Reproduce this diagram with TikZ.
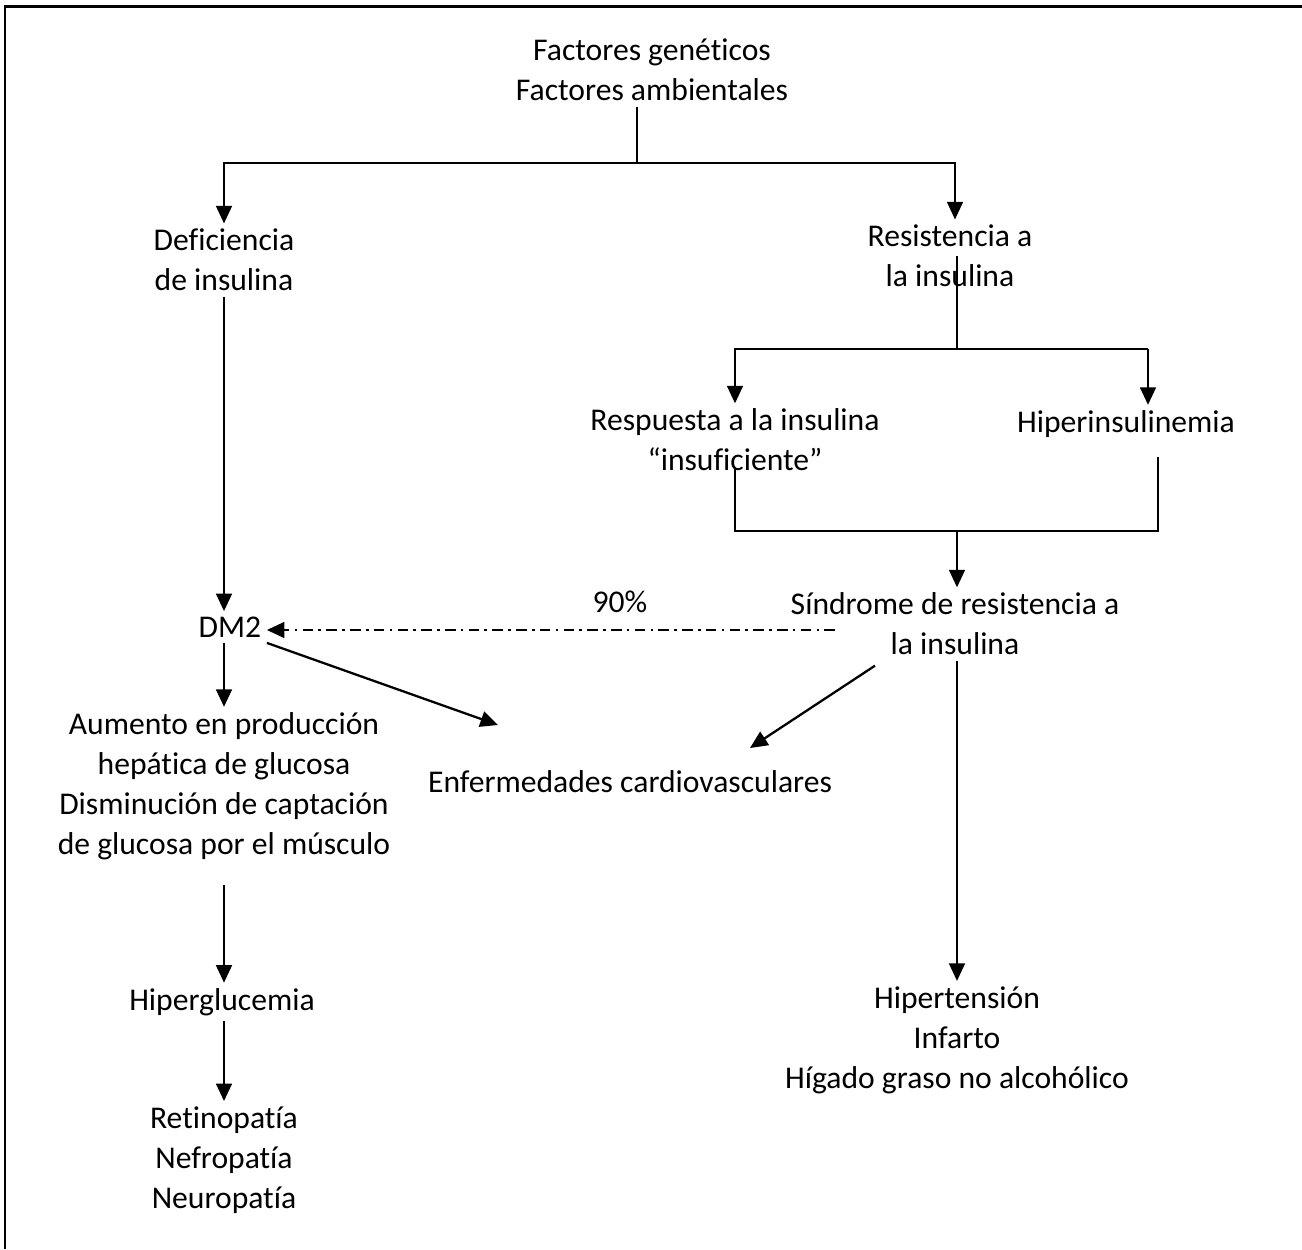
\documentclass[tikz,border=0pt]{standalone}
\usepackage{fontspec}
\setmainfont{Carlito}[Ligatures=NoCommon]
\usetikzlibrary{arrows.meta,calc}

\begin{document}
\begin{tikzpicture}
  [x=0.02cm,y=-0.02cm]
      \tikzstyle{text_style} = [align=center, inner sep=3pt, font=\fontsize{18}{22.7}\selectfont]
      \tikzstyle{line_style} = [draw=black, line width=1.3pt]
      \tikzstyle{arrow_style} = [line_style, -{Triangle[width=9pt,length=10pt]}]
      \tikzstyle{dash_style} = [arrow_style, dash pattern=on 6pt off 3pt on 1.5pt off 3pt]
  \useasboundingbox (0,0) rectangle (1302,1249);
  \draw[line width=1.7pt] (5,1249) -- (5,6) -- (1302,6);

  \node[text_style] (factores) at (652,70) {Factores genéticos\\Factores ambientales};
  \node[text_style] (deficiencia) at (224,260) {Deficiencia\\de insulina};
  \node[text_style] (resistencia) at (950,256) {Resistencia a\\la insulina};
  \node[text_style] (respuesta) at (735,440) {Respuesta a la insulina\\“insuficiente”};
  \node[text_style] (hiperinsulinemia) at (1126,424) {Hiperinsulinemia};
  \node[text_style] (sindrome) at (955,624) {Síndrome de resistencia a\\la insulina};
  \node[text_style] (dm2) at (230,627) {DM2};
  \node[text_style] (porcentaje) at (620,602) {90\%};
  \node[text_style] (aumento) at (224,786) {Aumento en producción\\hepática de glucosa\\Disminución de captación\\de glucosa por el músculo};
  \node[text_style] (enfermedades) at (630,782) {Enfermedades cardiovasculares};
  \node[text_style] (hipertension) at (957,1040) {Hipertensión\\Infarto\\Hígado graso no alcohólico};
  \node[text_style] (hiperglucemia) at (222,1002) {Hiperglucemia};
  \node[text_style] (retinopatia) at (224,1160) {Retinopatía\\Nefropatía\\Neuropatía};

  \coordinate (j1) at (637,163);
  \coordinate (j2) at (957,349);
  \coordinate (j3) at (957,531);
  \coordinate (h1) at (1148,349);
  \coordinate (h2) at (1158,457);
  \coordinate (s1) at (835,630);
  \coordinate (e1) at (498,725);
  \coordinate (e2) at (750,748);

  \draw[line_style] (factores.south -| j1) -- (j1);
  \draw[arrow_style] (j1) -| (deficiencia.north);
  \draw[arrow_style] (j1) -| ($(resistencia.north)+(5,0)$);
  \draw[arrow_style] (deficiencia.south) -- (deficiencia.south |- dm2.north);
  \draw[line_style] (resistencia.center -| j2) -- (j2);
  \draw[arrow_style] (j2) -| (respuesta.north);
  \draw[line_style] (j2) -- (h1);
  \draw[arrow_style] (h1) -- (h1 |- hiperinsulinemia.north);
  \draw[line_style] ($(respuesta.south)+(0,-10)$) |- (j3) -| (h2);
  \draw[arrow_style] (j3) -- (j3 |- sindrome.north);
  \draw[dash_style] (s1) -- (dm2.east |- s1);
  \draw[arrow_style] (dm2.south -| aumento) -- (aumento.north);
  \draw[arrow_style] (dm2.south east) -- (e1);
  \draw[arrow_style] ($(sindrome.south)+(-80,5)$) -- (e2);
  \draw[arrow_style] (sindrome.south -| hipertension) -- (hipertension.north);
  \draw[arrow_style] ($(aumento.south)+(0,20)$) -- (hiperglucemia.north -| aumento);
  \draw[arrow_style] (hiperglucemia.south -| retinopatia) -- (retinopatia.north);
\end{tikzpicture}
\end{document}
